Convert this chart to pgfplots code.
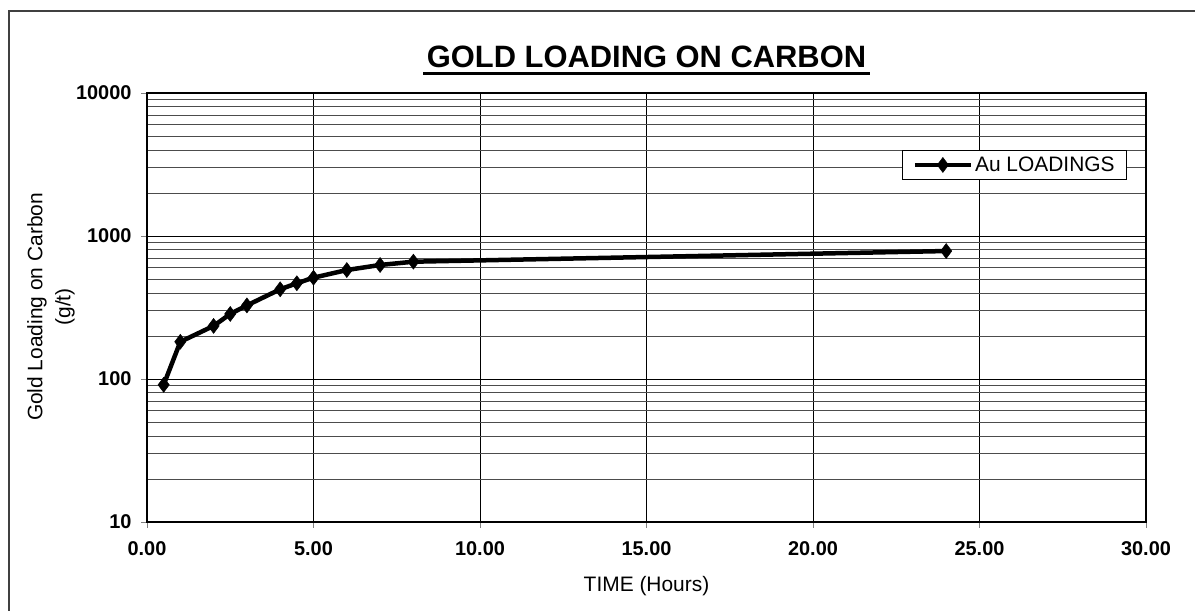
\documentclass[border=0pt]{standalone}
\usepackage{pgfplots}
\pgfplotsset{compat=1.18}
\usepackage{fontspec}
\setmainfont{Liberation Sans}
\begin{document}
\begin{tikzpicture}[x=1bp,y=1bp]
\useasboundingbox (0,0) rectangle (1195,611);
\draw[line width=1.5bp, black!75] (9,0) -- (9,600) -- (1195,600);
\begin{axis}[
  at={(147bp,89bp)}, anchor=south west,
  scale only axis, width=999bp, height=429bp,
  ymode=log, xmin=0, xmax=30, ymin=10, ymax=10000,
  xtick={0,5,...,30},
  ytick={10,100,1000,10000},
  yticklabels={10,100,1000,10000},
  xticklabel={\pgfmathprintnumber[fixed,fixed zerofill,precision=2]{\tick}},
  /pgf/number format/assume math mode=true,
  tick label style={font=\fontsize{20}{24}\selectfont\bfseries},
  xticklabel style={yshift=-10bp},
  yticklabel style={xshift=-6bp},
  tick align=outside, tick pos=left,
  major tick length=6bp, minor tick length=0bp,
  grid=both,
  major grid style={black, line width=0.9bp},
  minor grid style={black!70, line width=0.7bp},
  axis line style={black, line width=1.6bp},
  xlabel={TIME (Hours)},
  xlabel style={font=\fontsize{21}{25}\selectfont, yshift=-14bp},
  legend style={at={(0.981,0.867)}, anchor=north east, draw=black, line width=0.8bp,
    font=\fontsize{21}{25}\selectfont, inner xsep=10bp, inner ysep=4.5bp, legend cell align=left},
  legend image code/.code={%
    \draw[#1, mark repeat=2, mark phase=2] plot coordinates {(0bp,0bp) (28bp,0bp) (56bp,0bp)};},
]
\addplot[black, line width=4.5bp, mark=diamond*, mark size=7.5bp, mark options={solid, line width=0.5bp}] coordinates {
(0.5,91) (1,182) (2,235) (2.5,285) (3,327) (4,424) (4.5,467) (5,511) (6,578) (7,627) (8,661) (24,785)
};
\addlegendentry{Au LOADINGS}
\end{axis}
\node[font=\fontsize{31}{36}\selectfont\bfseries, anchor=base] (t) at (646.5,543) {GOLD LOADING ON CARBON};
\draw[line width=2.8bp] ([yshift=-5.5bp]t.base west) -- ([yshift=-5.5bp]t.base east);
\node[font=\fontsize{21}{28}\selectfont, rotate=90, align=center] at (51,304) {Gold Loading on Carbon\\(g/t)};
\end{tikzpicture}
\end{document}
